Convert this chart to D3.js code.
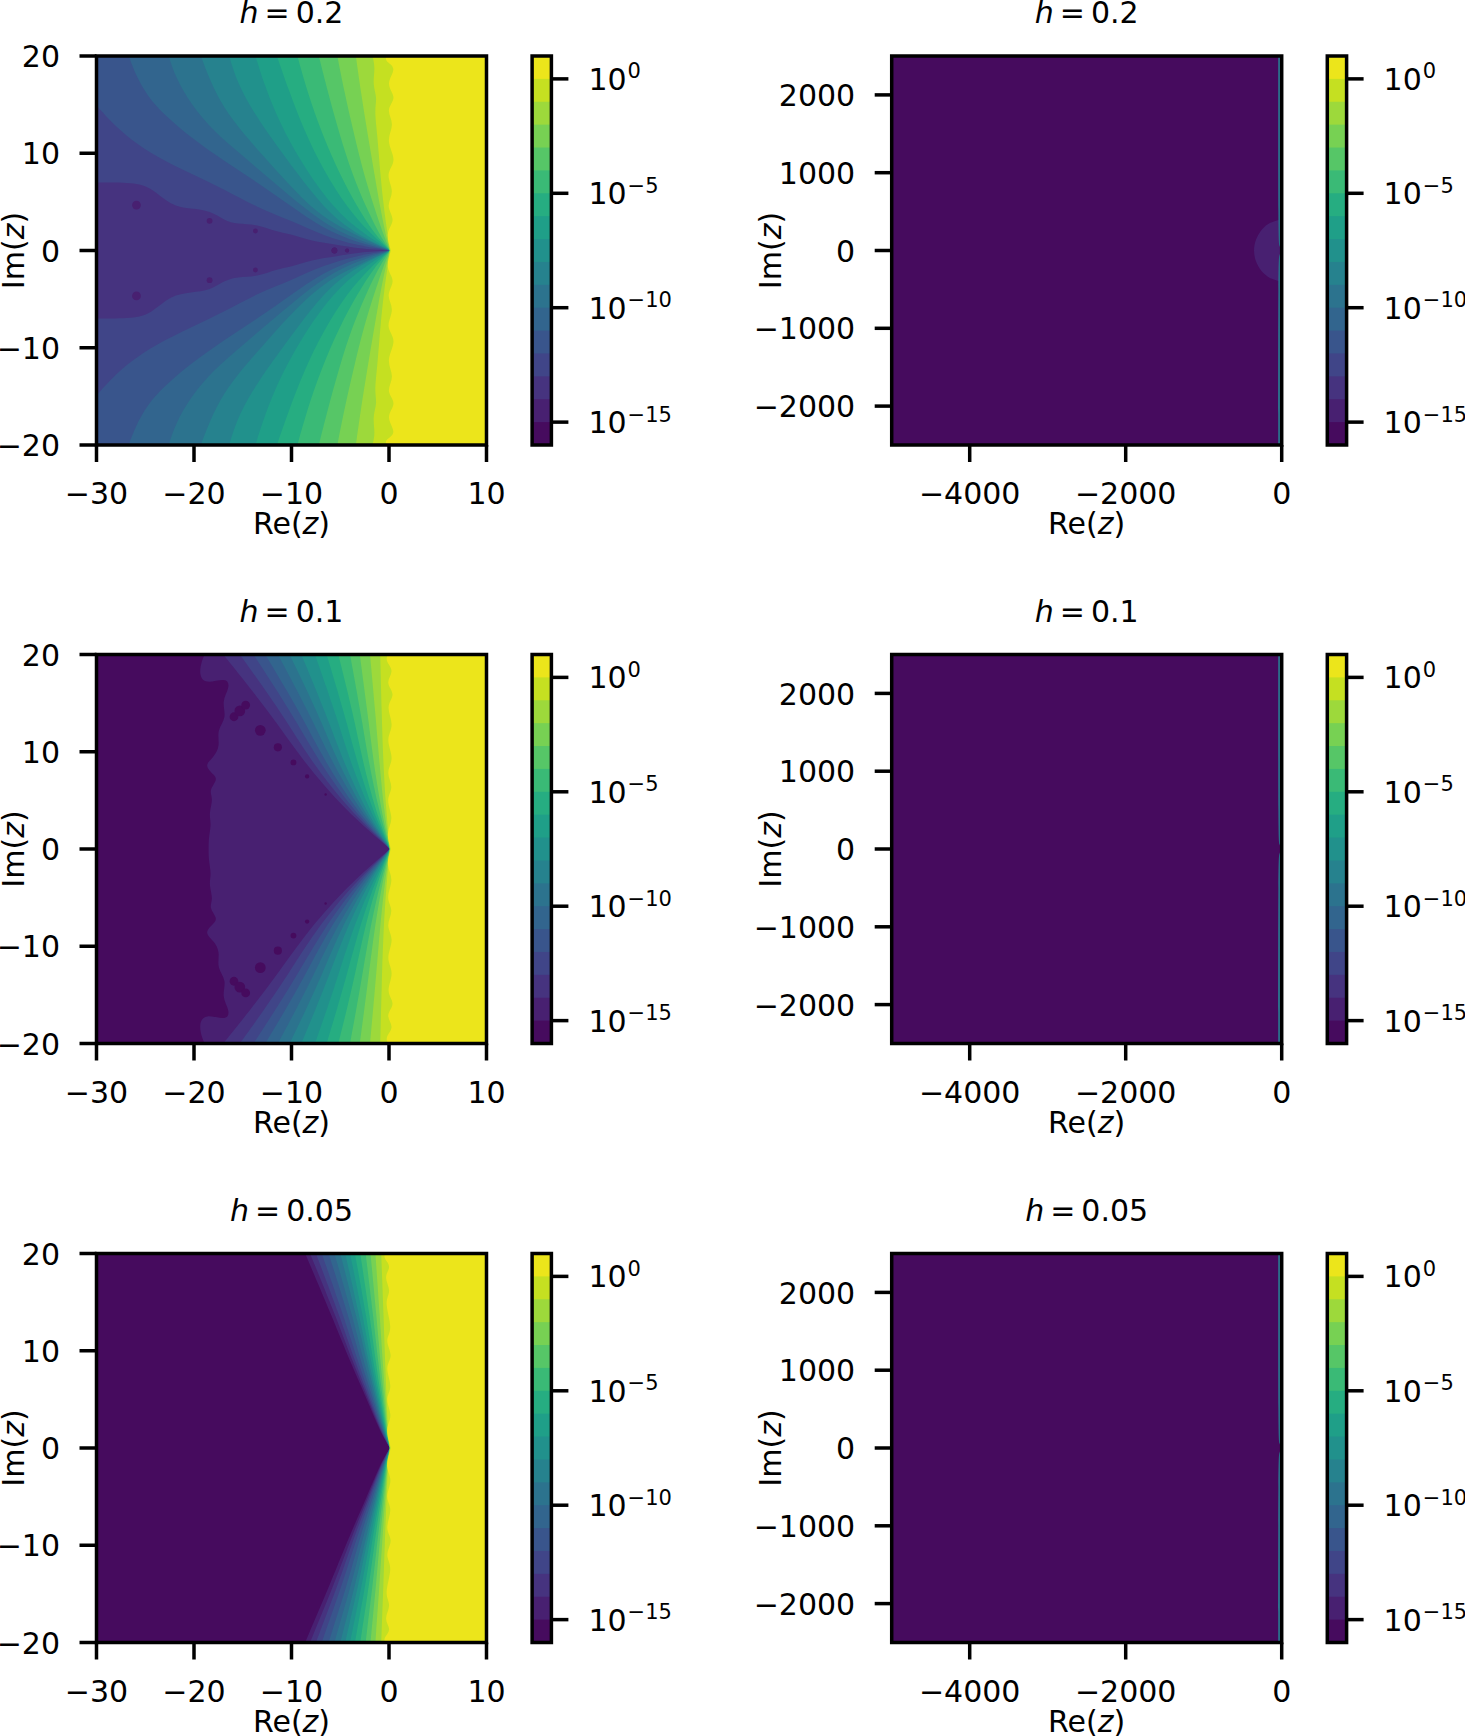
<!DOCTYPE html>
<html>
<head>
<meta charset="utf-8">
<script src="https://cdn.jsdelivr.net/npm/d3@7"></script>
<style>
  body { margin: 0; background: #fff; }
  text { font-family: "DejaVu Sans"; fill: #000; }
</style>
</head>
<body>
<div id="chart"></div>
<script>
// exponent of the lowest band per panel, contours are [level, upper half points] in data units
const steps = ["0.2", "0.1", "0.05"];
const near_x = [-30, -20, -10, 0, 10];
const near_y = [-20, -10, 0, 10, 20];
const far_x = [-4000, -2000, 0];
const far_y = [-2000, -1000, 0, 1000, 2000];
const cbar_levels = [0, -1, -2, -3, -4, -5, -6, -7, -8, -9, -10, -11, -12, -13, -14, -15, -16];
const cbar_ticks = [0, -5, -10, -15];

const near_h02 = [
  [-13, [[-30, 7], [-26.2, 7], [-24.4, 6.5], [-22.4, 4.6], [-20.3, 4.3], [-18.3, 4.1], [-16.9, 3.1], [-15.6, 2.7], [-13.5, 2.7], [-11.5, 1.9], [-10.1, 1.7], [-8, 0.95], [-5.3, 0.6], [-3.2, 0.2], [0.1, 0]]],
  [-12, [[-30, 14.9], [-28.5, 13.2], [-26.5, 11.4], [-23.8, 9.6], [-20.3, 7.9], [-16.9, 6.3], [-13.5, 4.4], [-10.1, 3.1], [-6.7, 1.5], [-3.2, 0.5], [0.1, 0]]],
  [-11, [[-26.7, 20], [-26, 18.1], [-24.8, 15.9], [-23.1, 14], [-20.3, 11.6], [-16.9, 9.2], [-13.5, 7], [-10.1, 4.6], [-6.7, 2.2], [-3.2, 0.8], [0.1, 0]]],
  [-10, [[-22.6, 20], [-21.9, 17.8], [-20.3, 15], [-18, 12.3], [-15.2, 9.9], [-11.8, 7], [-8.4, 4.1], [-5, 1.7], [0.1, 0]]],
  [-9, [[-19.3, 20], [-18.6, 18.1], [-17.4, 15.4], [-15.6, 12.8], [-12.8, 9.6], [-9.4, 5.8], [-6, 2.7], [0.1, 0]]],
  [-8, [[-16.4, 20], [-15.6, 17.4], [-14.2, 14.7], [-12.1, 11.6], [-9.4, 7.9], [-6.7, 4.4], [-3.9, 2], [0.1, 0]]],
  [-7, [[-13.7, 20], [-12.8, 17.1], [-11.3, 13.3], [-9.1, 9.2], [-6.3, 5.1], [-3.6, 2.4], [0.1, 0]]],
  [-6, [[-11.5, 20], [-10.4, 16.8], [-8.7, 12.3], [-6.7, 8.2], [-4.3, 4.4], [-1.9, 1.7], [0.1, 0]]],
  [-5, [[-9.4, 20], [-8.4, 16.4], [-7, 12.3], [-5.1, 7.9], [-3.2, 4.4], [-1.5, 1.7], [0.1, 0]]],
  [-4, [[-7.2, 20], [-6.3, 16.4], [-5.1, 12], [-3.8, 7.9], [-2.2, 4.1], [-0.85, 1.4], [0.1, 0]]],
  [-3, [[-5.3, 20], [-4.6, 16.4], [-3.6, 12], [-2.6, 7.9], [-1.5, 4.4], [-0.5, 1.4], [0.1, 0]]],
  [-2, [[-3.4, 20], [-2.9, 16.4], [-2.2, 12], [-1.5, 7.9], [-0.85, 4.1], [-0.2, 1], [0.1, 0]]],
  [-1, [[-1.7, 20], [-1.4, 18.8], [-1.7, 17.1], [-1.2, 15.7], [-1.5, 14.5], [-1.2, 12], [-0.9, 7.9], [-0.5, 4.1], [-0.05, 1], [0.1, 0]]],
  [0, [[-0.2, 20], [-0.5, 19.5], [0.9, 18.8], [-0.45, 17.1], [0.9, 15.7], [-0.4, 14.5], [0.65, 13], [-0.4, 11.3], [0.9, 9.2], [-0.45, 7.9], [0.65, 6], [-0.4, 4.6], [0.75, 3.1], [-0.4, 1.9], [0.2, 0]]]
];
const near_h01 = [
  [-15, [[-18.9, 20], [-19.2, 19.4], [-19.5, 18], [-18.9, 16.9], [-16.6, 17.7], [-16.3, 16.6], [-17.2, 15.2], [-16.6, 13.5], [-17.7, 12.2], [-17.3, 10.6], [-18, 9.4], [-19, 8.6], [-17.9, 7.6], [-17.6, 7.1], [-18.5, 6], [-18, 5.2], [-18.5, 3.6], [-18.2, 2.6], [-18.5, 1.2], [-18.5, 0]]],
  [-14, [[-17, 20], [-12.2, 14], [-8.8, 9], [-4.5, 4], [0.1, 0]]],
  [-13, [[-15.3, 20], [-11, 14], [-8, 9], [-4.05, 4], [0.1, 0]]],
  [-12, [[-13.9, 20], [-10, 14], [-7.2, 9], [-3.7, 4], [0.1, 0]]],
  [-11, [[-12.7, 20], [-9.1, 14], [-6.6, 9], [-3.35, 4], [0.1, 0]]],
  [-10, [[-11.4, 20], [-8.2, 14], [-5.9, 9], [-3, 4], [0.1, 0]]],
  [-9, [[-10.2, 20], [-7.3, 14], [-5.3, 9], [-2.7, 4], [0.1, 0]]],
  [-8, [[-9, 20], [-6.5, 14], [-4.7, 9], [-2.4, 4], [0.1, 0]]],
  [-7, [[-7.6, 20], [-5.5, 14], [-4, 9], [-2, 4], [0.1, 0]]],
  [-6, [[-6.4, 20], [-4.6, 14], [-3.3, 9], [-1.7, 4], [0.1, 0]]],
  [-5, [[-5.2, 20], [-3.7, 14], [-2.7, 9], [-1.4, 4], [0.1, 0]]],
  [-4, [[-4, 20], [-2.9, 14], [-2.1, 9], [-1.05, 4], [0.1, 0]]],
  [-3, [[-3, 20], [-2.2, 14], [-1.6, 9], [-0.8, 4], [0.1, 0]]],
  [-2, [[-1.95, 20], [-1.4, 14], [-1, 9], [-0.52, 4], [0.1, 0]]],
  [-1, [[-0.9, 20], [-0.75, 14], [-0.6, 9], [-0.3, 4], [0.1, 0]]],
  [0, [[-0.1, 20], [-0.4, 19.35], [0.6, 18.3], [-0.45, 17.1], [0.75, 15.9], [-0.4, 14.7], [0.6, 12.7], [-0.4, 11.3], [0.6, 9.25], [-0.4, 7.9], [0.55, 6.3], [-0.4, 5.1], [0.55, 3.1], [-0.35, 1.7], [0.2, 0]]]
];
const near_h005 = [
  [-15, [[-8.6, 20], [-5.8, 13.4], [-4, 8.9], [-2.3, 5.1], [-0.93, 1.7], [0.1, 0]]],
  [-14, [[-8.1, 20], [-5.4, 13.4], [-3.75, 8.9], [-2.15, 5.1], [-0.87, 1.7], [0.1, 0]]],
  [-13, [[-7.5, 20], [-5, 13.4], [-3.5, 8.9], [-2, 5.1], [-0.81, 1.7], [0.1, 0]]],
  [-12, [[-6.9, 20], [-4.6, 13.4], [-3.2, 8.9], [-1.85, 5.1], [-0.75, 1.7], [0.1, 0]]],
  [-11, [[-6.2, 20], [-4.1, 13.4], [-2.9, 8.9], [-1.65, 5.1], [-0.67, 1.7], [0.1, 0]]],
  [-10, [[-5.6, 20], [-3.7, 13.4], [-2.6, 8.9], [-1.5, 5.1], [-0.6, 1.7], [0.1, 0]]],
  [-9, [[-5, 20], [-3.3, 13.4], [-2.3, 8.9], [-1.35, 5.1], [-0.54, 1.7], [0.1, 0]]],
  [-8, [[-4.5, 20], [-3, 13.4], [-2.1, 8.9], [-1.2, 5.1], [-0.49, 1.7], [0.1, 0]]],
  [-7, [[-4, 20], [-2.65, 13.4], [-1.85, 8.9], [-1.07, 5.1], [-0.43, 1.7], [0.1, 0]]],
  [-6, [[-3.5, 20], [-2.3, 13.4], [-1.63, 8.9], [-0.93, 5.1], [-0.38, 1.7], [0.1, 0]]],
  [-5, [[-2.95, 20], [-1.95, 13.4], [-1.37, 8.9], [-0.79, 5.1], [-0.32, 1.7], [0.1, 0]]],
  [-4, [[-2.4, 20], [-1.6, 13.4], [-1.12, 8.9], [-0.64, 5.1], [-0.26, 1.7], [0.1, 0]]],
  [-3, [[-1.9, 20], [-1.27, 13.4], [-0.88, 8.9], [-0.51, 5.1], [-0.2, 1.7], [0.1, 0]]],
  [-2, [[-1.4, 20], [-0.93, 13.4], [-0.65, 8.9], [-0.37, 5.1], [-0.15, 1.7], [0.1, 0]]],
  [-1, [[-0.8, 20], [-0.55, 13.4], [-0.4, 8.9], [-0.25, 5.1], [-0.1, 1.7], [0.1, 0]]],
  [0, [[-0.42, 20], [-0.55, 19.5], [0.3, 18.66], [-0.6, 17.6], [0.3, 16.1], [-0.55, 15.1], [0.45, 12.15], [-0.5, 11.1], [0.5, 9.4], [-0.5, 8.4], [0.45, 6.2], [-0.5, 5.1], [0.45, 3.25], [-0.45, 2.05], [0.2, 0]]]
];
const far_h02 = [
  [-15, [[0, 400], [-120, 375], [-230, 305], [-310, 195], [-350, 85], [-355, 0]]],
  [-10, [[-45, 2500], [-45, 120], [-30, 60], [-3, 0]]]
];
const far_h01 = [
  [-10, [[-45, 2500], [-45, 120], [-30, 60], [-3, 0]]]
];
const far_h005 = [
  [-10, [[-45, 2500], [-45, 120], [-30, 60], [-3, 0]]]
];
// small dips that drop one band below what surrounds them: [level, re, im, radius]
const dips_h02 = [[-15, -25.9, 4.67, 0.45], [-15, -18.4, 3.05, 0.3], [-15, -13.7, 2, 0.25], [-15, -5.6, 0, 0.3], [-15, -4.3, 0, 0.2]];
const dips_h01 = [[-16, -15.9, 13.6, 0.45], [-16, -15.3, 14.2, 0.55], [-16, -14.7, 14.8, 0.45], [-16, -13.2, 12.2, 0.55], [-16, -11.4, 10.45, 0.42], [-16, -9.8, 8.9, 0.3], [-16, -8.4, 7.46, 0.22], [-16, -6.5, 5.6, 0.12]];

const base_levels = [-14, -16, -16];
const near_sets = [near_h02, near_h01, near_h005];
const far_sets = [far_h02, far_h01, far_h005];
const dip_sets = [dips_h02, dips_h01, []];

const width = 1465, height = 1736;
const panel_w = 390, panel_h = 389;
const tops = [56, 654.5, 1253.5];
const lefts = [96.5, 891.7];
const cbar_gap = 435.6, cbar_w = 19.3;
const font_size = 30, spine = 3.5, tick_len = 17;

const band_color = d3.scaleSequential(d3.interpolateViridis).domain([-16, 1]);

const svg = d3.select("#chart").append("svg")
  .attr("width", width)
  .attr("height", height)
  .style("display", "block");

let clip_id = 0;

function add_math_label(g, before, sym, after) {
  g.append("tspan").text(before);
  g.append("tspan").attr("font-style", "italic").text(sym);
  g.append("tspan").text(after);
}

function style_axis(g) {
  g.select(".domain").remove();
  g.selectAll(".tick line").attr("stroke", "#000").attr("stroke-width", spine);
  g.attr("font-size", font_size).attr("font-family", "DejaVu Sans");
}

function draw_contour(g, x, y, pts, xd, yd, color) {
  const line = d3.line().x(d => x(d[0])).y(d => y(d[1])).curve(d3.curveBasis);
  const lower = pts.map(d => [d[0], -d[1]]).reverse();
  const at_left = pts[0][0] <= xd[0];
  let path = line(pts) + line(lower).replace("M", "L");
  if (at_left) path += `L${x(xd[0])},${y(yd[0])}`;
  path += `L${x(xd[1])},${y(yd[0])}L${x(xd[1])},${y(yd[1])}`;
  if (at_left) path += `L${x(xd[0])},${y(yd[1])}`;
  g.append("path").attr("d", path + "Z").attr("fill", color);
}

function draw_panel(left, top, xd, yd, x_ticks, y_ticks, base, contours, dips, step) {
  const x = d3.scaleLinear().domain(xd).range([0, panel_w]);
  const y = d3.scaleLinear().domain(yd).range([panel_h, 0]);
  const g = svg.append("g").attr("transform", `translate(${left},${top})`);

  const id = `clip${clip_id++}`;
  g.append("clipPath").attr("id", id).append("rect").attr("width", panel_w).attr("height", panel_h);
  const area = g.append("g").attr("clip-path", `url(#${id})`);
  area.append("rect").attr("width", panel_w).attr("height", panel_h).attr("fill", band_color(base + 0.5));

  contours.forEach(c => draw_contour(area, x, y, c[1], xd, yd, band_color(c[0] + 0.5)));

  // dips come in mirrored pairs, the ones on the real axis just overlap themselves
  dips.forEach(d => {
    [d[2], -d[2]].forEach(im => {
      area.append("circle")
        .attr("cx", x(d[1]))
        .attr("cy", y(im))
        .attr("r", x(d[3]) - x(0))
        .attr("fill", band_color(d[0] + 0.5));
    });
  });

  g.append("rect").attr("width", panel_w).attr("height", panel_h)
    .attr("fill", "none").attr("stroke", "#000").attr("stroke-width", spine);

  const fmt = d => String(d).replace("-", "\u2212");
  g.append("g").attr("transform", `translate(0,${panel_h})`)
    .call(d3.axisBottom(x).tickValues(x_ticks).tickSize(tick_len).tickPadding(21).tickFormat(fmt).offset(0))
    .call(style_axis);
  g.append("g")
    .call(d3.axisLeft(y).tickValues(y_ticks).tickSize(tick_len).tickPadding(19.5).tickFormat(fmt).offset(0))
    .call(style_axis)
    .call(a => a.selectAll(".tick text").attr("dy", "0.37em"));

  const title = g.append("text").attr("x", panel_w / 2).attr("y", -33)
    .attr("text-anchor", "middle").attr("font-size", font_size);
  add_math_label(title, "", "h", "\u2009=\u2009" + step);

  const xlab = g.append("text").attr("x", panel_w / 2).attr("y", panel_h + 89)
    .attr("text-anchor", "middle").attr("font-size", font_size);
  add_math_label(xlab, "Re(", "z", ")");

  const ylab_x = left < 200 ? -73 : -111;
  const ylab = g.append("text")
    .attr("transform", `translate(${ylab_x},${panel_h / 2}) rotate(-90)`)
    .attr("text-anchor", "middle").attr("font-size", font_size);
  add_math_label(ylab, "Im(", "z", ")");
}

function draw_colorbar(left, top) {
  const y = d3.scaleLog().domain([1e-16, 10]).range([panel_h, 0]);
  const g = svg.append("g").attr("transform", `translate(${left},${top})`);

  // top band first, each lower band paints from its own top edge down so no seams show
  g.selectAll("rect.band").data(cbar_levels).join("rect")
    .attr("class", "band")
    .attr("y", d => y(Math.pow(10, d + 1)))
    .attr("width", cbar_w)
    .attr("height", d => panel_h - y(Math.pow(10, d + 1)))
    .attr("fill", d => band_color(d + 0.5));

  g.append("rect").attr("width", cbar_w).attr("height", panel_h)
    .attr("fill", "none").attr("stroke", "#000").attr("stroke-width", spine);

  const axis = g.append("g").attr("transform", `translate(${cbar_w},0)`)
    .call(d3.axisRight(y).tickValues(cbar_ticks.map(d => Math.pow(10, d))).tickSize(tick_len).tickPadding(20).tickFormat("").offset(0))
    .call(style_axis);

  axis.selectAll(".tick text").each(function (d) {
    const exp = Math.round(Math.log10(d));
    const t = d3.select(this).text(null).attr("dy", "0.37em");
    t.append("tspan").text("10");
    t.append("tspan").attr("font-size", 21).attr("dy", "-0.55em").attr("dx", 1)
      .text(String(exp).replace("-", "\u2212"));
  });
}

steps.forEach((step, i) => {
  draw_panel(lefts[0], tops[i], [-30, 10], [-20, 20], near_x, near_y, base_levels[i], near_sets[i], dip_sets[i], step);
  draw_colorbar(lefts[0] + cbar_gap, tops[i]);
  draw_panel(lefts[1], tops[i], [-5000, 0], [-2500, 2500], far_x, far_y, -16, far_sets[i], [], step);
  draw_colorbar(lefts[1] + cbar_gap, tops[i]);
});
</script>
</body>
</html>
